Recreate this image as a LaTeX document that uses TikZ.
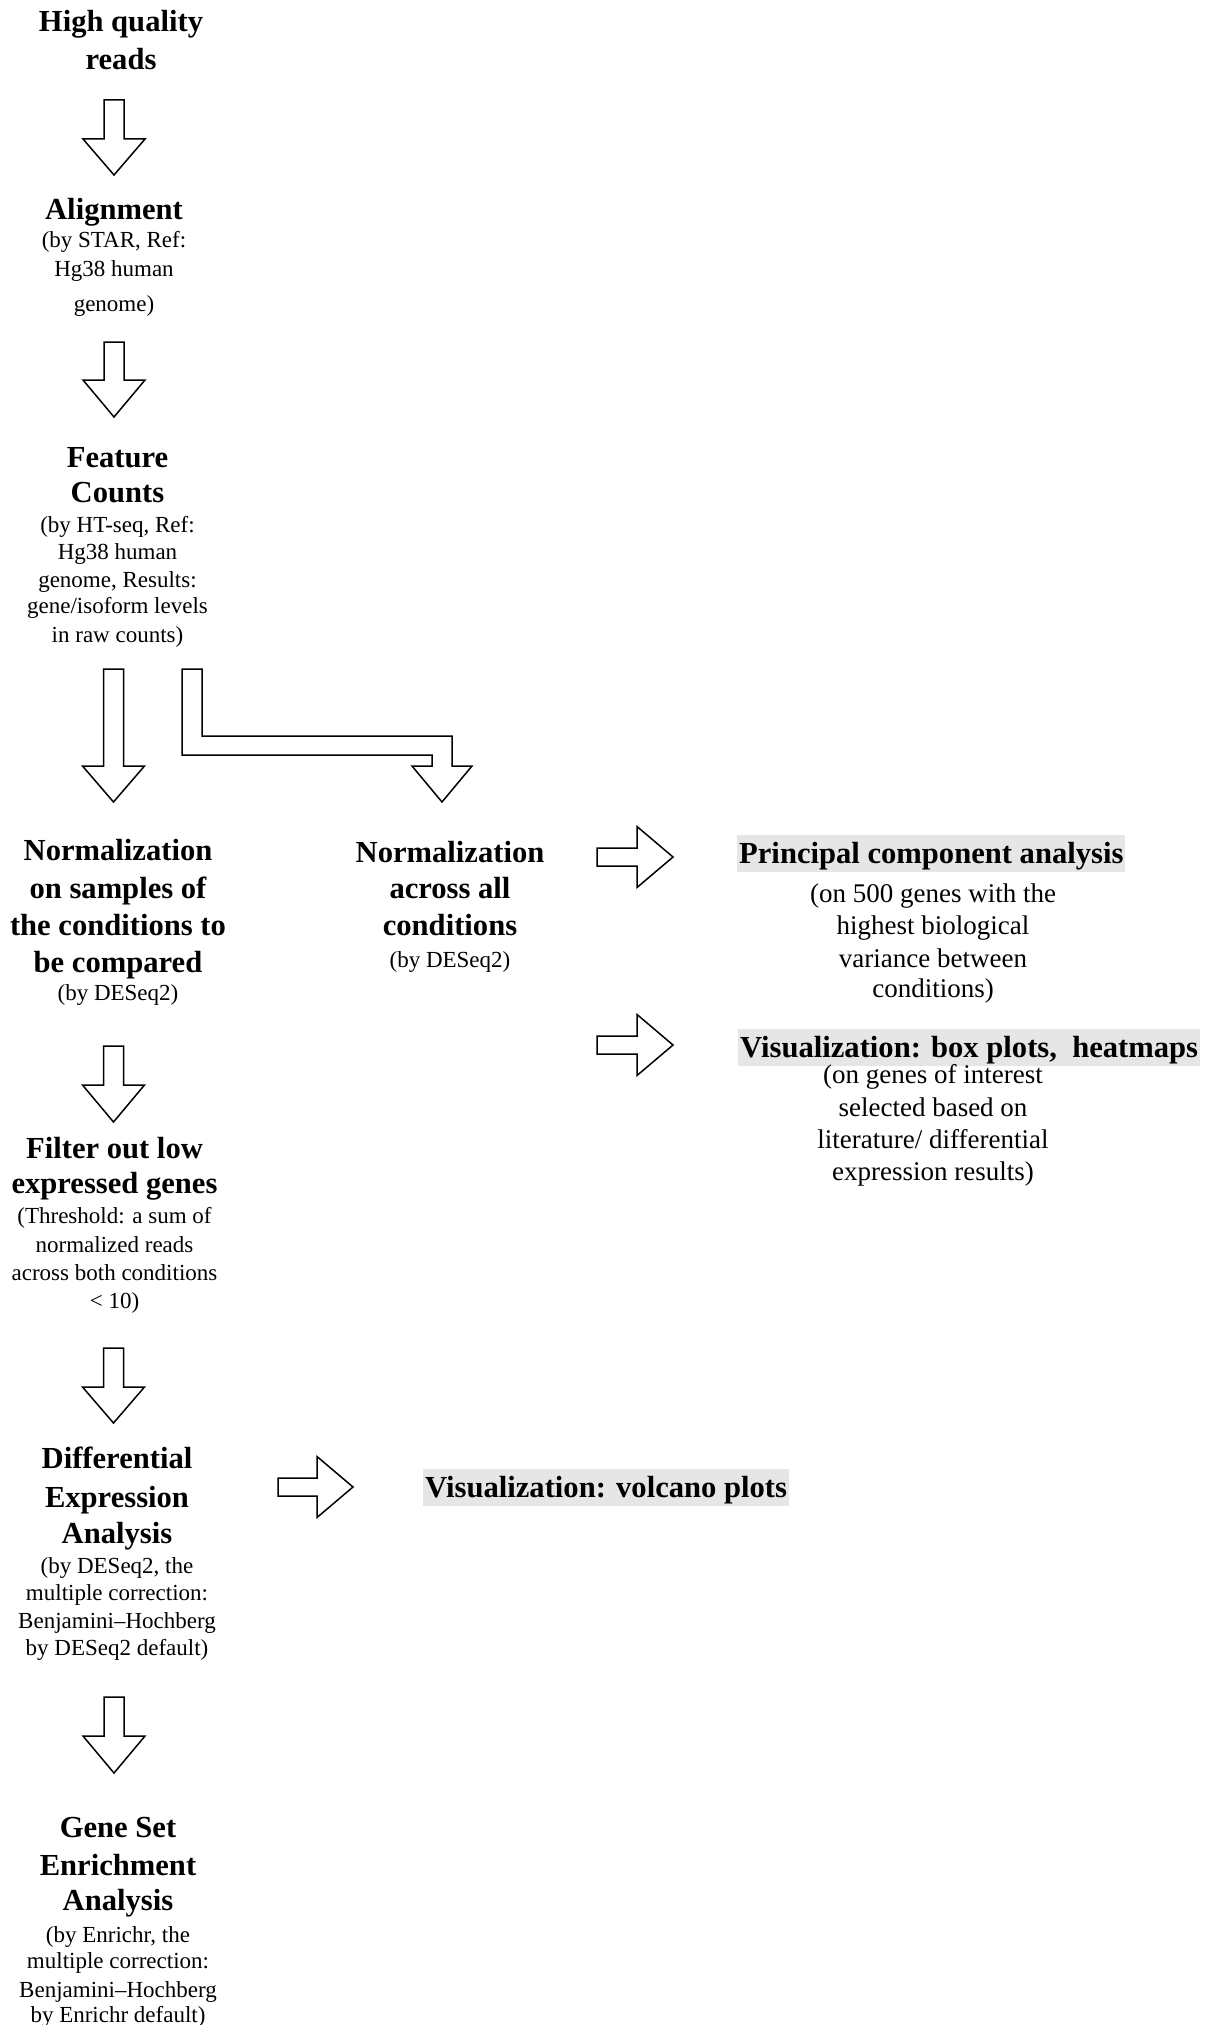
\documentclass[tikz,border=0pt]{standalone}
\usepackage{fontspec}
\setmainfont{Liberation Serif}
\definecolor{hlgray}{RGB}{231,230,230}
\tikzset{
  hd/.style={anchor=base, inner sep=0pt, font=\fontsize{30.6}{35}\selectfont\bfseries},
  sm/.style={anchor=base, inner sep=0pt, font=\fontsize{23}{26}\selectfont},
  smr/.style={anchor=base, inner sep=0pt, font=\fontsize{27}{31}\selectfont},
  hl/.style={anchor=base west, fill=hlgray, inner xsep=2pt, inner ysep=0pt, text height=28pt, text depth=9pt, font=\fontsize{30.6}{35}\selectfont\bfseries},
  blk/.style={draw=black, fill=white, line width=1.5pt, line join=miter}
}
\newcommand\darrow[4]{% center x, top, shaft bottom, tip
  \draw[blk] ({#1-10},#2) -- ({#1+10},#2) -- ({#1+10},#3) -- ({#1+31},#3) -- (#1,#4) -- ({#1-31},#3) -- ({#1-10},#3) -- cycle;}
\newcommand\rarrow[4]{% left x, head base x, tip x, center y
  \draw[blk] (#1,{#4-9}) -- (#2,{#4-9}) -- (#2,{#4-30.5}) -- (#3,#4) -- (#2,{#4+30.5}) -- (#2,{#4+9}) -- (#1,{#4+9}) -- cycle;}
\begin{document}
\begin{tikzpicture}[x=1pt,y=-1pt]
\useasboundingbox[fill=white] (0,0) rectangle (1214,2025);

% High quality reads
\node[hd] (hq1) at (121,32) {High quality};
\node[hd] (hq2) at (121,70) {reads};
\darrow{114}{100}{139}{175}

% Alignment
\node[hd] (al1) at (114,220) {Alignment};
\node[sm] (al2) at (114,248) {(by STAR, Ref:};
\node[sm] (al3) at (114,277) {Hg38 human};
\node[sm] (al4) at (114,312) {genome)};
\darrow{114}{342}{380}{417}

% Feature counts
\node[hd] (fc1) at (117.5,467) {Feature};
\node[hd] (fc2) at (117.5,502) {Counts};
\node[sm] (fc3) at (117.5,532) {(by HT-seq, Ref:};
\node[sm] (fc4) at (117.5,559) {Hg38 human};
\node[sm] (fc5) at (117.5,587) {genome, Results:};
\node[sm] (fc6) at (117.5,613) {gene/isoform levels};
\node[sm] (fc7) at (117.5,642) {in raw counts)};

\darrow{113.5}{669}{766}{802}
\draw[blk] (182,669) -- (202,669) -- (202,736) -- (452,736) -- (452,766) -- (472,766)
  -- (442,802) -- (412,766) -- (432,766) -- (432,755) -- (182,755) -- cycle;

% Normalization (left)
\node[hd] (nl1) at (118,860) {Normalization};
\node[hd] (nl2) at (118,898) {on samples of};
\node[hd] (nl3) at (118,935) {the conditions to};
\node[hd] (nl4) at (118,972) {be compared};
\node[sm] (nl5) at (118,1000) {(by DESeq2)};

% Normalization (right)
\node[hd] (nr1) at (450,862) {Normalization};
\node[hd] (nr2) at (450,898) {across all};
\node[hd] (nr3) at (450,935) {conditions};
\node[sm] (nr4) at (450,967) {(by DESeq2)};

% PCA
\rarrow{597}{637}{673}{857}
\node[hl] (pca) at (737,863) {Principal component analysis\ };
\node[smr] (pc1) at (933,902) {(on 500 genes with the};
\node[smr] (pc2) at (933,934) {highest biological};
\node[smr] (pc3) at (933,967) {variance between};
\node[smr] (pc4) at (933,997) {conditions)};

% Visualization box plots
\rarrow{597}{637}{673}{1045}
\node[hl] (vis) at (738,1057) {Visualization: box plots,\ \ heatmaps};
\node[smr] (vs1) at (933,1083) {(on genes of interest};
\node[smr] (vs2) at (933,1116) {selected based on};
\node[smr] (vs3) at (933,1148) {literature/ differential};
\node[smr] (vs4) at (933,1180) {expression results)};

% Filter
\darrow{113.5}{1046}{1085}{1122}
\node[hd] (fi1) at (114.5,1158) {Filter out low};
\node[hd] (fi2) at (114.5,1193) {expressed genes};
\node[sm] (fi3) at (114.5,1223) {(Threshold: a sum of};
\node[sm] (fi4) at (114.5,1252) {normalized reads};
\node[sm] (fi5) at (114.5,1280) {across both conditions};
\node[sm] (fi6) at (114.5,1308) {< 10)};

% Differential expression
\darrow{113.5}{1348}{1387}{1423}
\node[hd] (de1) at (117,1468) {Differential};
\node[hd] (de2) at (117,1507) {Expression};
\node[hd] (de3) at (117,1543) {Analysis};
\node[sm] (de4) at (117,1573) {(by DESeq2, the};
\node[sm] (de5) at (117,1600) {multiple correction:};
\node[sm] (de6) at (117,1628) {Benjamini–Hochberg};
\node[sm] (de7) at (117,1655) {by DESeq2 default)};

\rarrow{278}{317}{353}{1487}
\node[hl] (vol) at (423,1497) {Visualization: volcano plots\ };

% Gene set enrichment
\darrow{114}{1697}{1736}{1773}
\node[hd] (gs1) at (118,1837) {Gene Set};
\node[hd] (gs2) at (118,1875) {Enrichment};
\node[hd] (gs3) at (118,1910) {Analysis};
\node[sm] (gs4) at (118,1942) {(by Enrichr, the};
\node[sm] (gs5) at (118,1968) {multiple correction:};
\node[sm] (gs6) at (118,1997) {Benjamini–Hochberg};
\node[sm] (gs7) at (118,2022) {by Enrichr default)};
\end{tikzpicture}
\end{document}
